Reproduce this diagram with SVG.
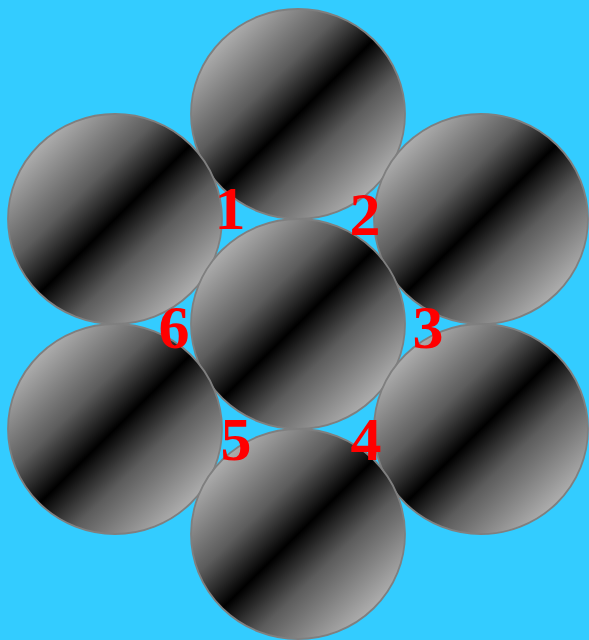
<svg xmlns="http://www.w3.org/2000/svg" width="589" height="640" viewBox="0 0 589 640">
<defs>
<linearGradient id="g" x1="0" y1="0" x2="1" y2="1">
<stop offset="0.15" stop-color="#acacac"/>
<stop offset="0.36" stop-color="#5c5c5c"/>
<stop offset="0.5" stop-color="#000"/>
<stop offset="0.64" stop-color="#5c5c5c"/>
<stop offset="0.85" stop-color="#acacac"/>
</linearGradient>
</defs>
<style>
.c{fill:url(#g);stroke:#7f7f7f;stroke-width:1.8}
.t{font-family:"Liberation Serif","Times New Roman",serif;font-weight:bold;font-size:62px;fill:#ff0000;text-anchor:middle}
</style>
<rect width="589" height="640" fill="#33ccff"/>
<g id="connectors"/>
<g id="n-top"><ellipse class="c" cx="298" cy="114" rx="107" ry="105"/></g>
<g id="n-lt"><ellipse class="c" cx="115" cy="219" rx="107" ry="105"/></g>
<g id="n-rt"><ellipse class="c" cx="481" cy="219" rx="107" ry="105"/></g>
<g id="n-center"><ellipse class="c" cx="298" cy="324" rx="107" ry="105"/></g>
<g id="n-lb"><ellipse class="c" cx="115" cy="429" rx="107" ry="105"/></g>
<g id="n-rb"><ellipse class="c" cx="481" cy="429" rx="107" ry="105"/></g>
<g id="n-bottom"><ellipse class="c" cx="298" cy="534" rx="107" ry="105"/></g>
<g id="labels">
<text class="t" x="230" y="229">1</text>
<text class="t" x="365" y="235">2</text>
<text class="t" x="428" y="348">3</text>
<text class="t" x="366" y="460">4</text>
<text class="t" x="236" y="460">5</text>
<text class="t" x="174" y="348">6</text>
</g>
</svg>
